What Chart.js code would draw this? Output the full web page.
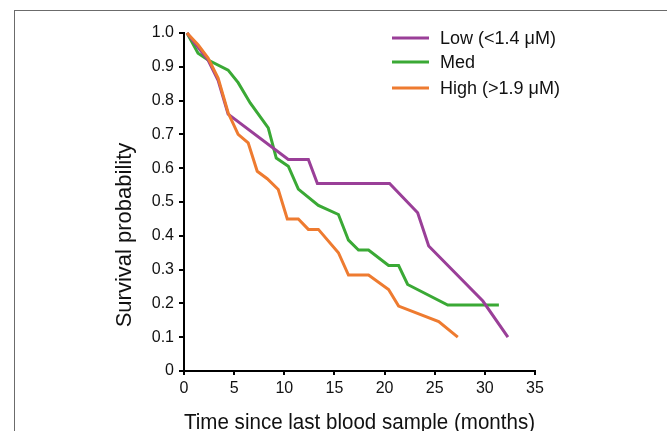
<!DOCTYPE html>
<html>
<head>
<meta charset="utf-8">
<script src="https://cdn.jsdelivr.net/npm/chart.js@4.4.1/dist/chart.umd.min.js"></script>
<style>
  body { margin: 0; background: #fff; }
  #wrap { position: relative; width: 667px; height: 431px; overflow: hidden; }
  #frame { position: absolute; left: 14px; top: 10px; width: 700px; height: 500px;
           border-left: 1.5px solid #6b6b6b; border-top: 1.5px solid #6b6b6b; }
  canvas { position: absolute; left: 0; top: 0; }
</style>
</head>
<body>
<div id="wrap">
  <div id="frame"></div>
  <canvas id="chart" width="667" height="431"></canvas>
</div>
<script>
// Survival curves (time in months, survival probability)
const lowTime = [0.3, 2.4, 3.4, 4.4, 10.4, 12.4, 13.3, 20.5, 23.3, 24.4, 29.8, 32.3];
const lowSurv = [1.0, 0.92, 0.86, 0.76, 0.626, 0.626, 0.555, 0.555, 0.468, 0.37, 0.207, 0.10];

const medTime = [0.3, 1.4, 2.4, 4.4, 5.4, 6.6, 8.4, 9.2, 10.4, 11.4, 13.4, 15.4, 16.4, 17.4, 18.4, 20.4, 21.4, 22.3, 26.3, 31.4];
const medSurv = [1.0, 0.94, 0.92, 0.89, 0.853, 0.793, 0.719, 0.63, 0.606, 0.538, 0.49, 0.463, 0.387, 0.358, 0.358, 0.312, 0.312, 0.256, 0.195, 0.195];

const highTime = [0.3, 1.4, 2.4, 3.4, 4.4, 5.4, 6.4, 7.3, 8.3, 9.4, 10.3, 11.4, 12.4, 13.4, 15.4, 16.4, 18.4, 20.4, 21.4, 25.4, 27.3];
const highSurv = [1.0, 0.965, 0.926, 0.867, 0.764, 0.70, 0.675, 0.591, 0.569, 0.537, 0.45, 0.45, 0.419, 0.419, 0.35, 0.284, 0.284, 0.241, 0.192, 0.146, 0.10];

const seriesLabels = ["Low (<1.4 \u03bcM)", "Med", "High (>1.9 \u03bcM)"];
const seriesColors = ["#9a3f98", "#3aa935", "#ee7b30"];

const xTitle = "Time since last blood sample (months)";
const yTitle = "Survival probability";

function toPoints(xs, ys) {
  return xs.map((x, i) => ({ x: x, y: ys[i] }));
}

const fontFamily = "'Liberation Sans', Arial, Helvetica, sans-serif";

// legend drawn in the top right corner, like the original figure
const cornerLegend = {
  id: "cornerLegend",
  afterDraw(chart) {
    const ctx = chart.ctx;
    const rows = [38, 62, 88];
    ctx.save();
    ctx.font = "18px " + fontFamily;
    ctx.textBaseline = "middle";
    chart.data.datasets.forEach((ds, i) => {
      ctx.strokeStyle = ds.borderColor;
      ctx.lineWidth = 3;
      ctx.beginPath();
      ctx.moveTo(392, rows[i]);
      ctx.lineTo(429, rows[i]);
      ctx.stroke();
      ctx.fillStyle = "#111";
      ctx.fillText(ds.label, 440, rows[i] + 1);
    });
    ctx.restore();
  }
};

// y title sits a bit below the middle of the axis in the original
const yAxisTitle = {
  id: "yAxisTitle",
  afterDraw(chart) {
    const ctx = chart.ctx;
    ctx.save();
    ctx.translate(125, 235);
    ctx.rotate(-Math.PI / 2);
    ctx.font = "22px " + fontFamily;
    ctx.fillStyle = "#111";
    ctx.textAlign = "center";
    ctx.textBaseline = "middle";
    ctx.fillText(yTitle, 0, 0);
    ctx.restore();
  }
};

const ctx = document.getElementById("chart").getContext("2d");
new Chart(ctx, {
  type: "line",
  data: {
    datasets: [
      { label: seriesLabels[0], data: toPoints(lowTime, lowSurv), borderColor: seriesColors[0], order: 2 },
      { label: seriesLabels[1], data: toPoints(medTime, medSurv), borderColor: seriesColors[1], order: 3 },
      { label: seriesLabels[2], data: toPoints(highTime, highSurv), borderColor: seriesColors[2], order: 1 }
    ].map((ds) => Object.assign(ds, {
      borderWidth: 3,
      pointRadius: 0,
      tension: 0,
      fill: false,
      borderCapStyle: "butt",
      clip: false
    }))
  },
  options: {
    responsive: false,
    animation: false,
    devicePixelRatio: 1,
    layout: { padding: { left: 0, right: 132, top: 33, bottom: 0 } },
    plugins: {
      legend: { display: false },
      tooltip: { enabled: false }
    },
    scales: {
      x: {
        type: "linear",
        min: 0,
        max: 35,
        ticks: { stepSize: 5, color: "#111", padding: 4, font: { size: 16, family: fontFamily } },
        grid: { display: true, drawOnChartArea: false, drawTicks: true, tickLength: 4, color: "#000", lineWidth: 2 },
        border: { display: true, color: "#000", width: 2 },
        title: { display: true, text: xTitle, color: "#111", padding: { top: 0, bottom: -5 }, font: { size: 22, family: fontFamily } },
        afterFit(scale) { scale.height = 60; }
      },
      y: {
        min: 0,
        max: 1,
        ticks: {
          stepSize: 0.1,
          color: "#111",
          padding: 5,
          font: { size: 16, family: fontFamily },
          callback: (v) => (v === 0 ? "0" : v.toFixed(1))
        },
        grid: { display: true, drawOnChartArea: false, drawTicks: true, tickLength: 5, color: "#000", lineWidth: 2 },
        border: { display: true, color: "#000", width: 2 },
        afterFit(scale) { scale.width = 184; }
      }
    }
  },
  plugins: [cornerLegend, yAxisTitle]
});
</script>
</body>
</html>
